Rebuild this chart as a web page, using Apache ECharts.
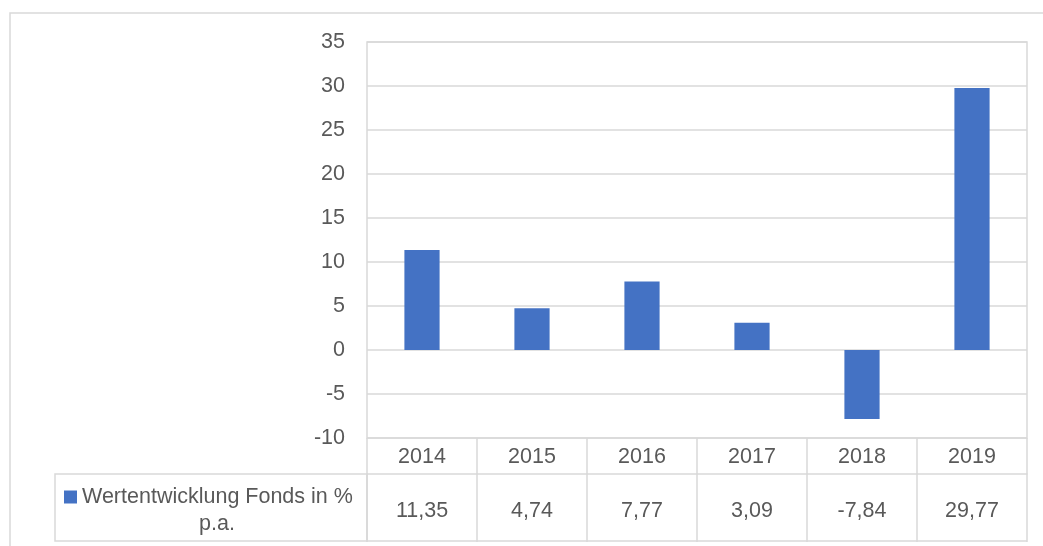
<!DOCTYPE html>
<html>
<head>
<meta charset="utf-8">
<script src="https://cdn.jsdelivr.net/npm/echarts@6/dist/echarts.min.js"></script>
<style>html,body{margin:0;padding:0;background:#fff}#c{width:1043px;height:546px}</style>
</head>
<body>
<div id="c"></div>
<script>
const categories = ['2014', '2015', '2016', '2017', '2018', '2019'];
const values = [11.35, 4.74, 7.77, 3.09, -7.84, 29.77];
const seriesName = 'Wertentwicklung Fonds in % p.a.';
const legendLine1 = 'Wertentwicklung Fonds in %';
const legendLine2 = 'p.a.';
const yMin = -10, yMax = 35, yStep = 5;

const FONT = 'Liberation Sans';
const FS = 21.5;
const TXT = '#595959';
const LINE = '#d9d9d9';
const valueLabels = values.map(v => v.toFixed(2).replace('.', ','));

const chart = echarts.init(document.getElementById('c'), null, {renderer: 'canvas'});
chart.setOption({
  animation: false,
  textStyle: {fontFamily: FONT},
  grid: {left: 367, right: 16, top: 42, bottom: 108, show: true, borderColor: LINE, borderWidth: 1.5, containLabel: false},
  legend: {
    show: true, left: 59, top: 481, itemWidth: 13, itemHeight: 13, icon: 'rect',
    data: [seriesName],
    formatter: () => legendLine1,
    textStyle: {fontFamily: FONT, fontSize: FS, color: TXT}
  },
  xAxis: [
    {
      type: 'category', data: categories, position: 'bottom',
      axisLine: {show: false, onZero: false},
      axisTick: {show: true, length: 104, lineStyle: {color: LINE, width: 1.5}},
      axisLabel: {margin: 8, fontSize: FS, color: TXT, fontFamily: FONT},
      splitLine: {show: false}
    },
    {
      type: 'category', data: valueLabels, position: 'bottom', offset: 36,
      axisLine: {show: true, onZero: false, lineStyle: {color: LINE, width: 1.5}},
      axisTick: {show: false},
      axisLabel: {margin: 26, fontSize: FS, color: TXT, fontFamily: FONT},
      splitLine: {show: false}
    }
  ],
  yAxis: {
    type: 'value', min: yMin, max: yMax, interval: yStep,
    axisLine: {show: false}, axisTick: {show: false},
    axisLabel: {margin: 22, fontSize: FS, color: TXT, fontFamily: FONT},
    splitLine: {show: true, lineStyle: {color: LINE, width: 1.5}}
  },
  series: [{
    name: seriesName, type: 'bar', data: values, xAxisIndex: 0,
    barWidth: '32%', itemStyle: {color: '#4472C4'}
  }],
  graphic: [
    {type: 'rect', shape: {x: 10, y: 13, width: 1100, height: 600}, style: {fill: 'none', stroke: LINE, lineWidth: 1.5}, silent: true, z: -1},
    {type: 'rect', shape: {x: 55, y: 474, width: 312, height: 67}, style: {fill: 'none', stroke: LINE, lineWidth: 1.5}, silent: true},
    {type: 'line', shape: {x1: 367, y1: 541, x2: 1027, y2: 541}, style: {stroke: LINE, lineWidth: 1.5}, silent: true},
    {type: 'text', x: 217, y: 524, style: {text: legendLine2, font: FS + 'px "' + FONT + '"', fill: TXT, textAlign: 'center', textVerticalAlign: 'middle'}, silent: true}
  ]
});
</script>
</body>
</html>
